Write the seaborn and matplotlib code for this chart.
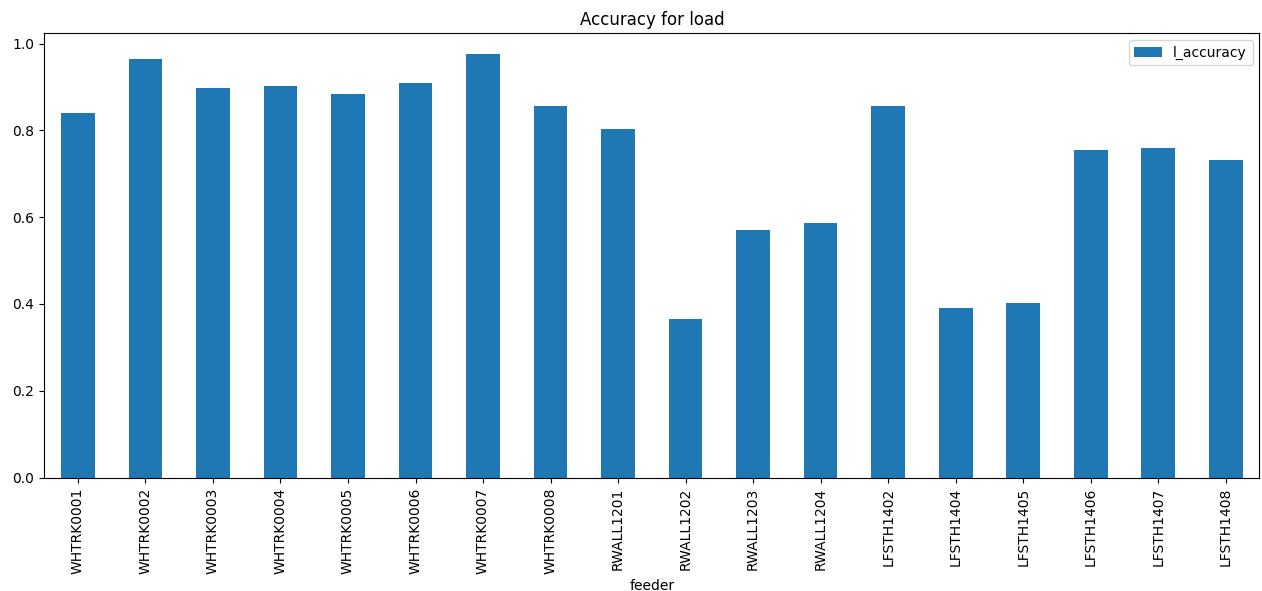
import pandas as pd
import matplotlib
matplotlib.use("Agg")
import matplotlib.pyplot as plt
import seaborn as sns


# Feeder names and accuracy values
feeders = [
    "WHTRK0001", "WHTRK0002", "WHTRK0003", "WHTRK0004", "WHTRK0005",
    "WHTRK0006", "WHTRK0007", "WHTRK0008", "RWALL1201", "RWALL1202",
    "RWALL1203", "RWALL1204", "LFSTH1402", "LFSTH1404", "LFSTH1405",
    "LFSTH1406", "LFSTH1407", "LFSTH1408",
]

l_accuracy = [
    0.839, 0.964, 0.897, 0.901, 0.884,
    0.908, 0.975, 0.857, 0.802, 0.366,
    0.570, 0.586, 0.857, 0.391, 0.402,
    0.754, 0.759, 0.731,
]

df = pd.DataFrame({"feeder": feeders, "l_accuracy": l_accuracy})


fig, ax = plt.subplots(figsize=(12.62, 5.91), dpi=100)
fig.subplots_adjust(left=0.035, right=0.998, top=0.944, bottom=0.192)

sns.barplot(
    data=df,
    x="feeder",
    y="l_accuracy",
    color="#1f77b4",
    saturation=1,
    width=0.5,
    label="l_accuracy",
    ax=ax
)

ax.set_ylim(0, 1.024)
ax.set_xlim(-0.5, len(feeders) - 0.5)

ax.set_title("Accuracy for load")
ax.set_xlabel("feeder")
ax.set_ylabel("")

plt.setp(ax.get_xticklabels(), rotation=90)

ax.legend(loc="upper right")

fig.savefig("out.png", dpi=100)
